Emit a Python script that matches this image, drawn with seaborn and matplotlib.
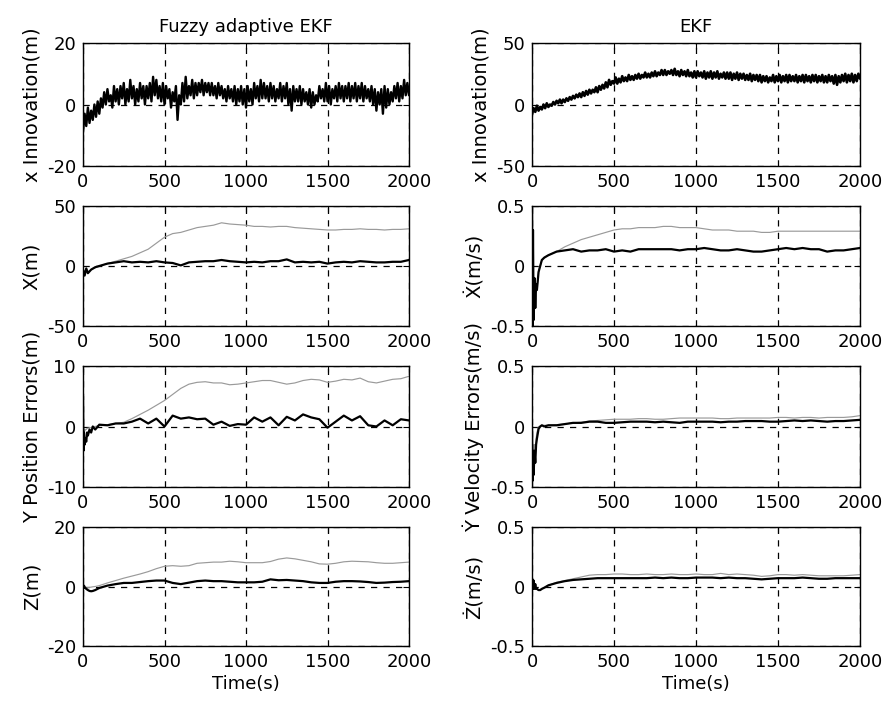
import numpy as np
import pandas as pd
import matplotlib
matplotlib.use("Agg")
import matplotlib.pyplot as plt
import seaborn as sns

# ---------------- data ----------------
t_innov = list(range(0, 2001, 10))

innov_fuzzy = [-9, -3, -7, -1, -6, -2, -5, 0, -4, 1, -3, 2, -1, 4, 0, 5, 1, 3, -1, 6,
               1, 5, 0, 6, 2, 7, 0, 5, 1, 8, 2, 6, 0, 5, 1, 7, 2, 6, 0, 6,
               2, 7, 1, 9, 3, 8, 2, 6, 1, 7, 0, 6, 2, 5, -1, 4, 1, 6, -5, 3,
               0, 7, 1, 9, 2, 6, 3, 8, 2, 7, 3, 7, 4, 8, 3, 7, 4, 7, 3, 7,
               3, 6, 2, 7, 3, 6, 2, 5, 1, 6, 2, 5, 1, 6, 0, 5, 1, 6, 0, 5,
               -1, 6, 1, 5, 0, 7, 2, 6, 1, 8, 2, 7, 2, 6, 1, 7, 2, 6, 1, 5,
               2, 7, 1, 6, 2, 7, 0, 5, -2, 6, 1, 5, 1, 6, 0, 5, 1, 4, 0, 5,
               -1, 4, 0, 3, 1, 6, 2, 5, 1, 7, 1, 6, 0, 5, 2, 6, 1, 7, 2, 6,
               1, 6, 2, 7, 1, 6, 2, 7, 1, 6, 2, 7, 1, 6, 2, 5, 1, 6, 0, 5,
               -2, 4, 0, 5, -3, 6, -1, 5, 0, 4, 1, 6, 2, 7, 1, 6, 2, 8, 3, 7,
               3]

innov_ekf = [-8, -3, -6, -1, -5, -2, -4, 0, -3, 1, -2, 0, -1, 2, 0, 3, 1, 4, 1, 4,
             2, 5, 3, 6, 4, 7, 5, 8, 6, 9, 6, 10, 7, 11, 8, 12, 9, 12, 10, 14,
             10, 15, 12, 16, 13, 18, 14, 20, 16, 19, 17, 22, 17, 21, 18, 23, 19, 22, 19, 24,
             20, 23, 20, 24, 21, 25, 21, 24, 22, 26, 22, 25, 22, 26, 23, 27, 23, 26, 24, 28,
             24, 28, 24, 27, 25, 28, 24, 29, 24, 27, 23, 28, 24, 27, 23, 28, 23, 26, 22, 27,
             22, 27, 23, 26, 22, 27, 21, 26, 22, 27, 21, 26, 22, 27, 21, 25, 22, 26, 21, 26,
             21, 26, 20, 25, 21, 26, 20, 25, 21, 25, 20, 24, 20, 25, 19, 24, 20, 24, 19, 24,
             18, 23, 19, 23, 18, 22, 19, 24, 18, 23, 19, 24, 18, 23, 19, 24, 18, 24, 19, 23,
             19, 24, 18, 23, 19, 24, 18, 24, 19, 23, 18, 24, 19, 24, 18, 23, 19, 24, 18, 23,
             18, 24, 19, 23, 17, 24, 16, 23, 18, 24, 19, 25, 18, 24, 19, 25, 18, 24, 19, 25,
             21]

t_pos = [0, 10, 20, 30, 50, 75] + list(range(100, 2001, 50))
x_fuzzy = [-3, -8, -2, -6, -3, -1, 0, 2, 3, 4, 3, 3.5, 3, 4, 3, 2.5, 0.5, 3, 3.5, 4,
           4, 5, 4, 3.5, 3, 3.5, 3, 4, 4, 5.5, 3, 3.5, 3, 3.5, 2, 3, 3.5, 3, 4, 3.5,
           3, 3, 3.5, 3.5, 5]
x_ekf = [-3, -6, -4, -5, -3, -1.5, 0, 2, 4, 6, 8, 11, 14, 19, 24, 27, 28, 30, 32, 33,
         34, 36, 35, 34.5, 34, 33, 33, 32.5, 33, 33, 32, 31.5, 31, 30.5, 30, 30, 30.5, 30.5, 31, 30.5,
         30.5, 30, 30.5, 30.5, 31]

t_fine = [0, 3, 6, 10, 15, 20, 25, 30, 40, 50, 60, 75] + list(range(100, 2001, 50))

xdot_fuzzy = [0.5, -0.5, 0.3, -0.45, -0.1, -0.35, -0.15, -0.2, -0.05, 0.0, 0.05, 0.07,
              0.09, 0.12, 0.13, 0.14, 0.12, 0.13, 0.13, 0.14, 0.12, 0.13, 0.12, 0.14, 0.14, 0.14,
              0.14, 0.14, 0.13, 0.14, 0.14, 0.15, 0.14, 0.13, 0.13, 0.14, 0.13, 0.12, 0.12, 0.13,
              0.14, 0.15, 0.14, 0.15, 0.14, 0.14, 0.12, 0.13, 0.13, 0.14, 0.15]
xdot_ekf = [0.5, -0.5, 0.3, -0.45, -0.1, -0.35, -0.15, -0.2, -0.05, 0.0, 0.05, 0.07,
            0.09, 0.12, 0.16, 0.19, 0.22, 0.24, 0.26, 0.28, 0.30, 0.31, 0.31, 0.32, 0.32, 0.32,
            0.33, 0.33, 0.32, 0.32, 0.32, 0.31, 0.30, 0.30, 0.30, 0.29, 0.29, 0.29, 0.28, 0.28,
            0.29, 0.29, 0.29, 0.29, 0.29, 0.29, 0.29, 0.29, 0.29, 0.29, 0.29]

y_fuzzy = [5, -4, -1, -3, -2, -2.5, -1, -1.5, -0.5, -1, 0, -0.5,
           0.3, 0.2, 0.5, 0.5, 0.8, 1.3, 0.5, 1.3, 0.0, 1.8, 1.3, 1.5, 1.2, 1.3,
           0.3, 0.8, 0.1, 0.4, 0.3, 1.5, 0.8, 1.5, 0.2, 1.6, 1.0, 2.0, 1.5, 1.2,
           -0.2, 0.8, 1.8, 1.0, 1.7, 0.2, 0.0, 1.0, 0.2, 1.2, 1.0]
y_ekf = [0, -1, -0.5, -0.8, -0.5, -0.5, -0.3, -0.3, -0.2, -0.2, 0, 0,
         0.2, 0.3, 0.5, 0.7, 1.3, 2.0, 2.7, 3.5, 4.3, 5.3, 6.3, 7.0, 7.3, 7.4,
         7.2, 7.2, 6.9, 7.0, 7.2, 7.4, 7.6, 7.6, 7.3, 7.0, 7.2, 7.6, 7.8, 7.7,
         7.3, 7.5, 7.8, 7.7, 8.0, 7.4, 7.2, 7.5, 7.8, 7.9, 8.3]

ydot_fuzzy = [0, -0.45, -0.2, -0.4, -0.2, -0.3, -0.15, -0.1, -0.02, 0.0, 0.01, 0.0,
              0.01, 0.01, 0.02, 0.03, 0.03, 0.04, 0.04, 0.03, 0.03, 0.035, 0.04, 0.04, 0.04, 0.035,
              0.04, 0.035, 0.03, 0.04, 0.04, 0.04, 0.04, 0.035, 0.04, 0.04, 0.045, 0.045, 0.045, 0.04,
              0.04, 0.045, 0.05, 0.045, 0.05, 0.045, 0.04, 0.045, 0.045, 0.05, 0.055]
ydot_ekf = [0, -0.4, -0.15, -0.3, -0.15, -0.2, -0.1, -0.05, 0.0, 0.0, 0.01, 0.01,
            0.01, 0.015, 0.02, 0.03, 0.035, 0.045, 0.05, 0.055, 0.06, 0.06, 0.06, 0.065, 0.065, 0.06,
            0.06, 0.065, 0.07, 0.07, 0.07, 0.07, 0.07, 0.065, 0.065, 0.07, 0.07, 0.07, 0.07, 0.07,
            0.075, 0.075, 0.07, 0.075, 0.075, 0.07, 0.075, 0.075, 0.075, 0.08, 0.09]

z_fuzzy = [0.5, -0.5, 0.3, -0.2, -0.5, -0.8, -1, -1.2, -1.5, -1.6, -1.5, -1.2,
           -0.5, 0.3, 0.8, 1.2, 1.2, 1.5, 1.8, 2.0, 2.0, 1.2, 0.8, 1.3, 1.8, 2.0,
           1.8, 1.8, 1.6, 1.4, 1.4, 1.4, 1.6, 2.4, 2.1, 2.2, 2.0, 1.8, 1.4, 1.2,
           1.2, 1.6, 1.8, 1.8, 1.7, 1.5, 1.2, 1.3, 1.5, 1.6, 1.8]
z_ekf = [0, 0, 0, -0.2, -0.3, -0.4, -0.4, -0.4, -0.3, -0.2, -0.1, 0,
         0.3, 1.2, 2.0, 2.8, 3.5, 4.2, 5.0, 6.0, 6.8, 7.0, 6.8, 7.0, 7.8, 8.0,
         8.2, 8.2, 8.5, 8.3, 8.0, 8.0, 8.0, 8.4, 9.2, 9.6, 9.3, 8.8, 8.3, 7.6,
         7.5, 7.8, 8.3, 8.5, 8.4, 8.3, 8.0, 7.8, 7.8, 8.0, 8.2]

zdot_fuzzy = [0.02, 0.06, -0.02, 0.05, -0.02, 0.02, -0.02, -0.02, -0.03, -0.03, -0.02, -0.01,
              0.01, 0.03, 0.045, 0.055, 0.06, 0.065, 0.07, 0.07, 0.07, 0.07, 0.07, 0.07, 0.07, 0.075,
              0.07, 0.075, 0.07, 0.07, 0.075, 0.075, 0.075, 0.07, 0.075, 0.07, 0.07, 0.065, 0.06, 0.065,
              0.07, 0.07, 0.07, 0.075, 0.07, 0.065, 0.065, 0.07, 0.07, 0.07, 0.07]
zdot_ekf = [0.02, 0.06, -0.02, 0.05, -0.02, 0.02, -0.02, -0.02, -0.03, -0.03, -0.02, -0.01,
            0.01, 0.035, 0.05, 0.065, 0.08, 0.095, 0.10, 0.10, 0.105, 0.105, 0.10, 0.10, 0.105, 0.10,
            0.10, 0.105, 0.10, 0.10, 0.105, 0.10, 0.10, 0.11, 0.10, 0.105, 0.10, 0.095, 0.085, 0.09,
            0.10, 0.10, 0.095, 0.10, 0.095, 0.09, 0.09, 0.09, 0.09, 0.095, 0.10]

x_ticks = [0, 500, 1000, 1500, 2000]
col_titles = ["Fuzzy adaptive EKF", "EKF"]
left_labels = ["x Innovation(m)", "X(m)", "Y Position Errors(m)", "Z(m)"]
right_labels = ["x Innovation(m)", "\u1E8A(m/s)", "\u1E8E Velocity Errors(m/s)", "\u017B(m/s)"]
left_ylims = [(-20, 20), (-50, 50), (-10, 10), (-20, 20)]
right_ylims = [(-50, 50), (-0.5, 0.5), (-0.5, 0.5), (-0.5, 0.5)]
left_yticks = [[-20, 0, 20], [-50, 0, 50], [-10, 0, 10], [-20, 0, 20]]
right_yticks = [[-50, 0, 50], [-0.5, 0, 0.5], [-0.5, 0, 0.5], [-0.5, 0, 0.5]]

# ---------------- figure ----------------
sns.set_theme(style="white")
plt.rcParams["font.family"] = ["DejaVu Sans"]
plt.rcParams["xtick.direction"] = "in"
plt.rcParams["ytick.direction"] = "in"

fig = plt.figure(figsize=(8.89, 7.09), dpi=100)
fig.patch.set_facecolor("white")

W, H = 889, 709
col_x = [(83, 409), (532, 860)]
row_y = [(43, 166), (206, 326), (366, 487), (527, 646)]

axes = [[None, None] for _ in range(4)]
for r, (top, bot) in enumerate(row_y):
    for c, (lft, rgt) in enumerate(col_x):
        ax = fig.add_axes([lft / W, 1 - bot / H, (rgt - lft) / W, (bot - top) / H])
        axes[r][c] = ax

black_kw = dict(color="black", linewidth=1.6)
grey_kw = dict(color="#9a9a9a", linewidth=0.85)

# row 1: innovations
sns.lineplot(x=t_innov, y=innov_fuzzy, ax=axes[0][0], color="black", linewidth=1.7)
sns.lineplot(x=t_innov, y=innov_ekf, ax=axes[0][1], color="black", linewidth=1.9)

# rows 2-4 : EKF (grey) and fuzzy (black)
pairs_left = [(t_pos, x_ekf, x_fuzzy), (t_fine, y_ekf, y_fuzzy), (t_fine, z_ekf, z_fuzzy)]
pairs_right = [(t_fine, xdot_ekf, xdot_fuzzy), (t_fine, ydot_ekf, ydot_fuzzy), (t_fine, zdot_ekf, zdot_fuzzy)]
for i in range(3):
    t, g, b = pairs_left[i]
    sns.lineplot(x=t, y=g, ax=axes[i + 1][0], **grey_kw)
    sns.lineplot(x=t, y=b, ax=axes[i + 1][0], **black_kw)
    t, g, b = pairs_right[i]
    sns.lineplot(x=t, y=g, ax=axes[i + 1][1], **grey_kw)
    sns.lineplot(x=t, y=b, ax=axes[i + 1][1], **black_kw)

fs = 13
for r in range(4):
    for c in range(2):
        ax = axes[r][c]
        ax.set_xlim(0, 2000)
        ylim = left_ylims[r] if c == 0 else right_ylims[r]
        yt = left_yticks[r] if c == 0 else right_yticks[r]
        ax.set_ylim(*ylim)
        ax.set_xticks(x_ticks)
        ax.set_yticks(yt)
        ax.set_xticklabels([str(v) for v in x_ticks])
        ax.set_yticklabels([("%g" % v) for v in yt])
        ax.tick_params(axis="both", labelsize=fs, length=4, width=0.8, color="black",
                       direction="in", top=True, right=True, pad=5, labelcolor="black")
        ax.grid(True, linestyle=(0, (5, 5)), color="black", linewidth=0.9)
        ax.set_axisbelow(True)
        for s in ax.spines.values():
            s.set_visible(True)
            s.set_color("black")
            s.set_linewidth(1.0)
        ax.set_ylabel(left_labels[r] if c == 0 else right_labels[r], fontsize=14, color="black",
                      labelpad=4)
        if r == 3:
            ax.set_xlabel("Time(s)", fontsize=fs, color="black", labelpad=3)
        else:
            ax.set_xlabel("")
        if r == 0:
            ax.set_title(col_titles[c], fontsize=13, color="black", pad=8)

fig.savefig("out.png", dpi=100, facecolor="white")
